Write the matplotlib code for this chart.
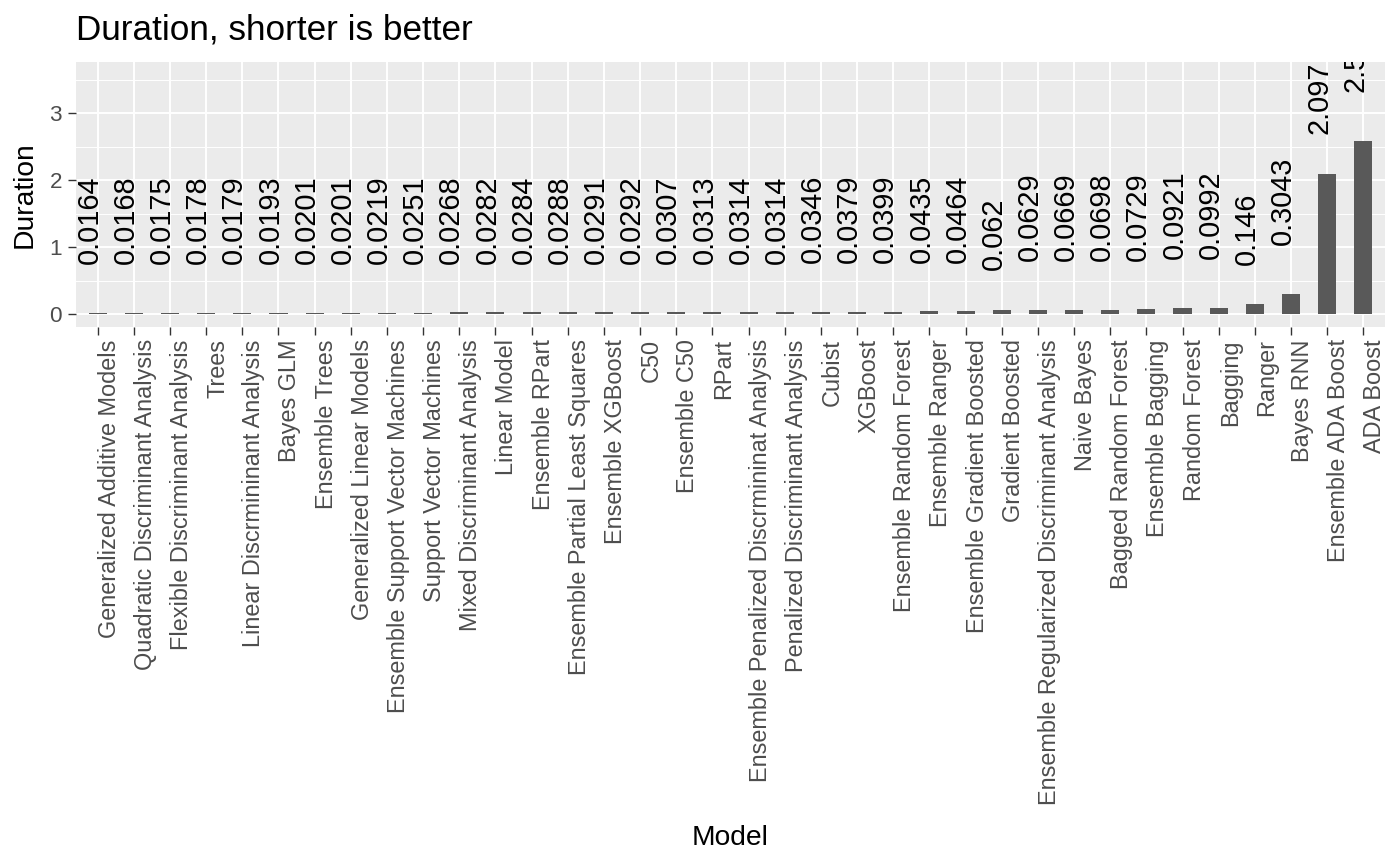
import matplotlib
matplotlib.use("Agg")
import matplotlib.pyplot as plt
from matplotlib.transforms import ScaledTranslation
from matplotlib.ticker import MultipleLocator

models = [
    "Generalized Additive Models", "Quadratic Discriminant Analysis",
    "Flexible Discriminant Analysis", "Trees", "Linear Discrmininant Analysis",
    "Bayes GLM", "Ensemble Trees", "Generalized Linear Models",
    "Ensemble Support Vector Machines", "Support Vector Machines",
    "Mixed Discriminant Analysis", "Linear Model", "Ensemble RPart",
    "Ensemble Partial Least Squares", "Ensemble XGBoost", "C50", "Ensemble C50",
    "RPart", "Ensemble Penalized Discrmininat Analysis",
    "Penalized Discriminant Analysis", "Cubist", "XGBoost",
    "Ensemble Random Forest", "Ensemble Ranger", "Ensemble Gradient Boosted",
    "Gradient Boosted", "Ensemble Regularized Discriminant Analysis",
    "Naive Bayes", "Bagged Random Forest", "Ensemble Bagging", "Random Forest",
    "Bagging", "Ranger", "Bayes RNN", "Ensemble ADA Boost", "ADA Boost",
]
durations = [
    0.0164, 0.0168, 0.0175, 0.0178, 0.0179, 0.0193, 0.0201, 0.0201, 0.0219,
    0.0251, 0.0268, 0.0282, 0.0284, 0.0288, 0.0291, 0.0292, 0.0307, 0.0313,
    0.0314, 0.0314, 0.0346, 0.0379, 0.0399, 0.0435, 0.0464, 0.062, 0.0629,
    0.0669, 0.0698, 0.0729, 0.0921, 0.0992, 0.146, 0.3043, 2.097, 2.5937,
]
y_ticks = [0, 1, 2, 3]

FONT = "Liberation Sans"
plt.rcParams["font.family"] = [FONT, "DejaVu Sans"]

W, H = 1400, 866
fig = plt.figure(figsize=(W / 100, H / 100), dpi=100)
ax = fig.add_axes([76 / W, 1 - 327 / H, (1385 - 76) / W, (327 - 62) / H])
ax.set_facecolor("#EBEBEB")
for s in ax.spines.values():
    s.set_visible(False)

x = list(range(len(models)))
ax.bar(x, durations, width=0.5, color="#595959", zorder=3)

ax.set_xlim(-0.6, len(models) - 0.4)
ax.set_ylim(-0.19, 3.766)
ax.set_yticks(y_ticks)
ax.set_yticklabels([str(t) for t in y_ticks])
ax.yaxis.set_minor_locator(MultipleLocator(0.5))
ax.set_xticks(x)
ax.set_xticklabels(models, rotation=90, ha="right", va="top",
                   rotation_mode="anchor")

ax.grid(which="major", color="white", linewidth=1.4, zorder=1)
ax.grid(which="minor", axis="y", color="white", linewidth=0.7, zorder=1)
ax.set_axisbelow(True)

ax.tick_params(axis="both", which="major", length=5.8, width=1.0,
               color="#333333", labelcolor="#4D4D4D", labelsize=16.9)
ax.tick_params(axis="y", labelsize=16.2)
ax.tick_params(axis="x", pad=3.0)
ax.tick_params(axis="y", pad=4.3)
ax.tick_params(axis="y", which="minor", length=0)

fig.text(0.5 * (76 + 1385) / W, 1 - 845 / H, "Model", fontsize=20.3,
         color="black", ha="center", va="baseline")
fig.text(25 / W, 1 - 194.5 / H, "Duration", fontsize=20.3, color="black",
         ha="center", va="center", rotation=90)
fig.text(76 / W, 1 - 39 / H, "Duration, shorter is better", fontsize=25.3,
         color="black", va="baseline", ha="left")

texts = []
for xi, v in zip(x, durations):
    t = ax.text(xi, v, str(round(v, 4)), rotation=90, rotation_mode="anchor",
                ha="left", va="baseline", fontsize=20.8, color="black",
                clip_on=True, zorder=4)
    texts.append(t)

fig.canvas.draw()
r = fig.canvas.get_renderer()
for t in texts:
    L = t.get_window_extent(r).height
    t.set_transform(ax.transData +
                    ScaledTranslation(0, 0.55 * L / fig.dpi, fig.dpi_scale_trans))

fig.savefig("out.png", dpi=100)
